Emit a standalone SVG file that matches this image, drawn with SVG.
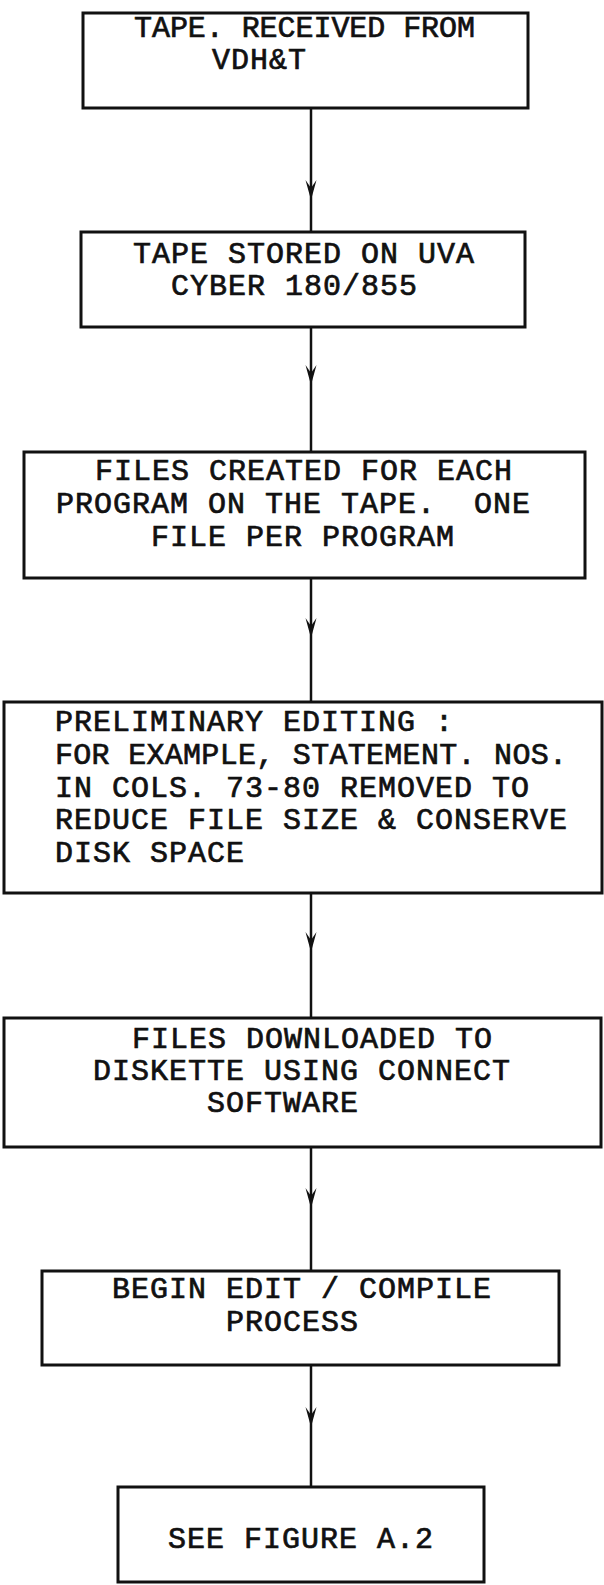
<svg xmlns="http://www.w3.org/2000/svg" width="604" height="1585" viewBox="0 0 604 1585">
<style>
.box{fill:none;stroke:#111;stroke-width:3}
.t{font-family:"Liberation Mono","Courier New",monospace;font-size:30px;letter-spacing:1px;fill:#111;stroke:#111;stroke-width:0.7}
.c{fill:none;stroke:#111;stroke-width:2.5;marker-mid:url(#ah)}
</style>
<defs>
<marker id="ah" viewBox="-21 -7 23 14" markerWidth="23" markerHeight="14" refX="0" refY="0" orient="auto" markerUnits="userSpaceOnUse">
<path d="M0,0 L-20,-5.5 L-12,0 L-20,5.5 Z" fill="#111"/>
</marker>
</defs>
<rect width="604" height="1585" fill="#fff"/>
<g id="connectors">
<polyline class="c" points="311,108 311,200 311,232"/>
<polyline class="c" points="311,327 311,385 311,452"/>
<polyline class="c" points="311,578 311,638 311,702"/>
<polyline class="c" points="311,893 311,952 311,1018"/>
<polyline class="c" points="311,1147 311,1208 311,1271"/>
<polyline class="c" points="311,1365 311,1427 311,1487"/>
</g>
<g id="n1">
<rect class="box" x="83" y="13" width="445" height="95"/>
<text class="t" x="134" y="37" textLength="342" lengthAdjust="spacing">TAPE. RECEIVED FROM</text>
<text class="t" x="212" y="69">VDH&amp;T</text>
</g>
<g id="n2">
<rect class="box" x="81" y="232" width="444" height="95"/>
<text class="t" x="133" y="263">TAPE STORED ON UVA</text>
<text class="t" x="171" y="295">CYBER 180/855</text>
</g>
<g id="n3">
<rect class="box" x="24" y="452" width="561" height="126"/>
<text class="t" x="95" y="480">FILES CREATED FOR EACH</text>
<text class="t" x="56" y="513" xml:space="preserve">PROGRAM ON THE TAPE.  ONE</text>
<text class="t" x="151" y="546">FILE PER PROGRAM</text>
</g>
<g id="n4">
<rect class="box" x="4" y="702" width="598" height="191"/>
<text class="t" x="55" y="731">PRELIMINARY EDITING :</text>
<text class="t" x="55" y="764" textLength="513" lengthAdjust="spacing">FOR EXAMPLE, STATEMENT. NOS.</text>
<text class="t" x="55" y="797">IN COLS. 73-80 REMOVED TO</text>
<text class="t" x="55" y="829">REDUCE FILE SIZE &amp; CONSERVE</text>
<text class="t" x="55" y="862">DISK SPACE</text>
</g>
<g id="n5">
<rect class="box" x="4" y="1018" width="597" height="129"/>
<text class="t" x="132" y="1048">FILES DOWNLOADED TO</text>
<text class="t" x="93" y="1080">DISKETTE USING CONNECT</text>
<text class="t" x="207" y="1112">SOFTWARE</text>
</g>
<g id="n6">
<rect class="box" x="42" y="1271" width="517" height="94"/>
<text class="t" x="112" y="1298">BEGIN EDIT / COMPILE</text>
<text class="t" x="226" y="1331">PROCESS</text>
</g>
<g id="n7">
<rect class="box" x="118" y="1487" width="366" height="95"/>
<text class="t" x="168" y="1548">SEE FIGURE A.2</text>
</g>
</svg>
